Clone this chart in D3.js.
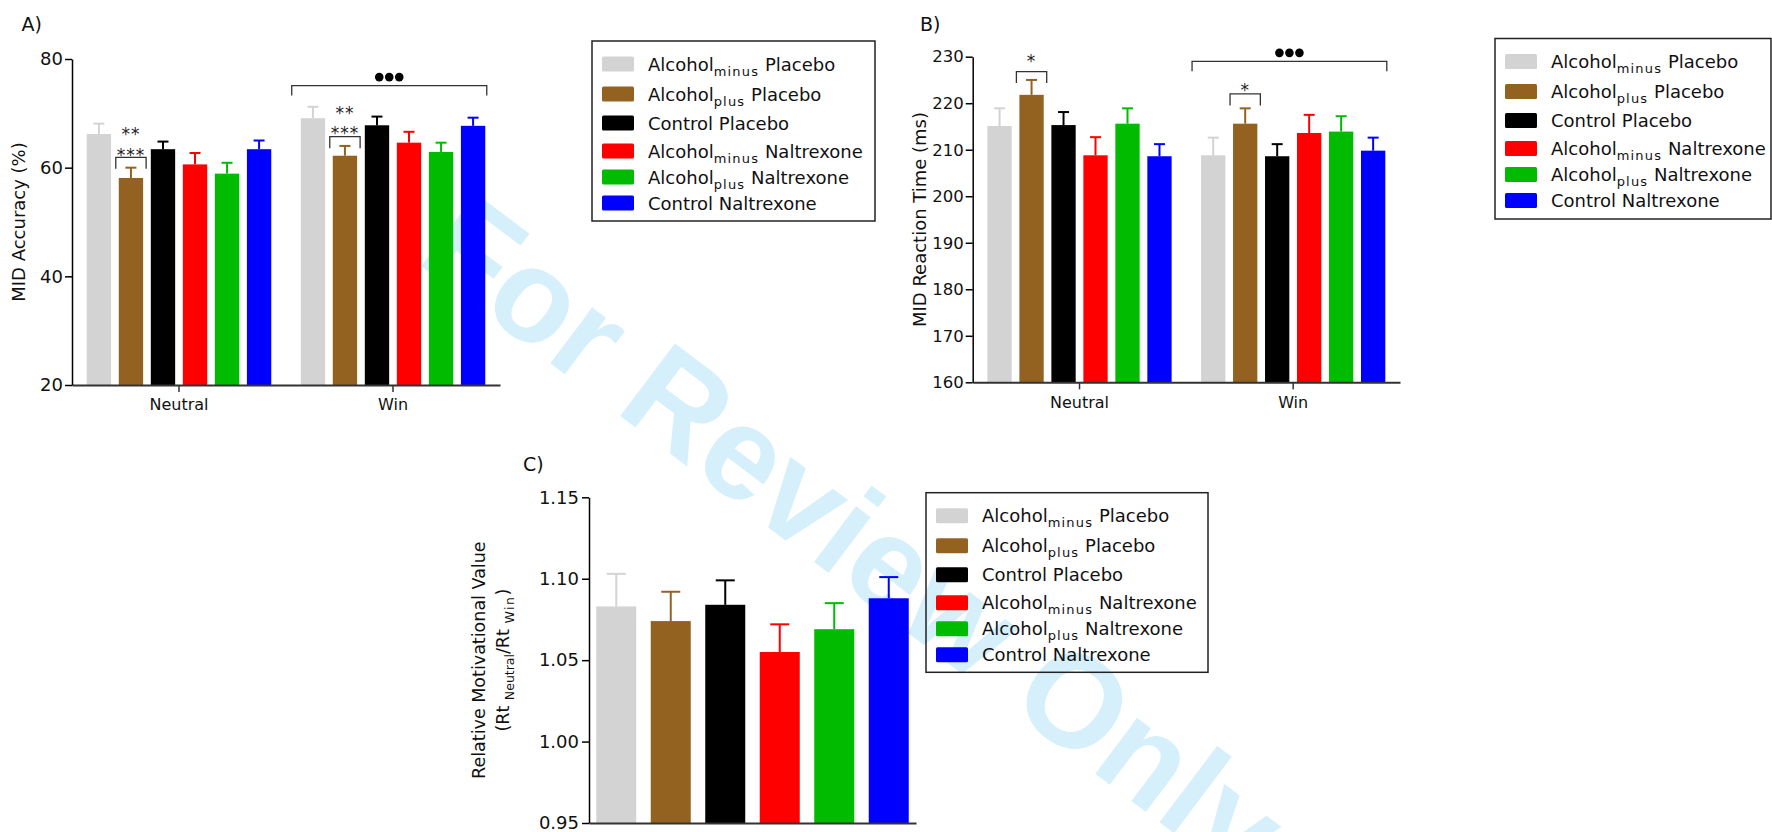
<!DOCTYPE html>
<html>
<head>
<meta charset="utf-8">
<script src="https://cdnjs.cloudflare.com/ajax/libs/d3/7.8.5/d3.min.js"></script>
<style>
  body { margin: 0; background: #fff; }
  svg { display: block; }
</style>
</head>
<body>
<svg id="chart" width="1772" height="832"></svg>
<script>
// ---- data ----
const groups = ['Neutral', 'Win'];
const seriesLabels = [
  ['Alcohol', 'minus', ' Placebo'],
  ['Alcohol', 'plus', ' Placebo'],
  ['Control Placebo', '', ''],
  ['Alcohol', 'minus', ' Naltrexone'],
  ['Alcohol', 'plus', ' Naltrexone'],
  ['Control Naltrexone', '', '']
];

const accNeutral = [66.2, 58.1, 63.4, 60.6, 58.9, 63.4];
const accNeutralSem = [1.9, 1.9, 1.4, 2.1, 2.0, 1.6];
const accWin = [69.1, 62.2, 67.8, 64.6, 62.9, 67.7];
const accWinSem = [2.1, 1.8, 1.6, 2.0, 1.7, 1.5];
const accTicks = [20, 40, 60, 80];

const rtNeutral = [215.1, 221.8, 215.3, 208.8, 215.6, 208.6];
const rtNeutralSem = [3.8, 3.2, 2.8, 3.9, 3.3, 2.6];
const rtWin = [208.8, 215.6, 208.6, 213.6, 213.9, 209.8];
const rtWinSem = [3.8, 3.3, 2.6, 3.9, 3.3, 2.8];
const rtTicks = [160, 170, 180, 190, 200, 210, 220, 230];

const rmv = [1.083, 1.074, 1.084, 1.055, 1.069, 1.088];
const rmvSem = [0.020, 0.018, 0.015, 0.017, 0.016, 0.013];
const rmvTicks = [0.95, 1.00, 1.05, 1.10, 1.15];

// significance: bracket over one bar, and bracket over a whole group
const accBarMarks = [
  { group: 'Neutral', series: 1, level: 61.9, starLevel: 63.1, stars: ['**', '***'] },
  { group: 'Win', series: 1, level: 65.7, starLevel: 67.05, stars: ['**', '***'] }
];
const accGroupMarks = [{ group: 'Win', level: 75.1 }];
const rtBarMarks = [
  { group: 'Neutral', series: 1, level: 226.8, starLevel: 230, stars: ['*'] },
  { group: 'Win', series: 1, level: 222.0, starLevel: 223.7, stars: ['*'] }
];
const rtGroupMarks = [{ group: 'Win', level: 229.0 }];

// ---- styling ----
const colors = ['#d3d3d3', '#946220', '#000000', '#ff0000', '#00bb00', '#0000ff'];
const font = '"DejaVu Sans", Verdana, sans-serif';
const legendRows = [0, 30, 59, 87, 113, 139];

const svg = d3.select('#chart');

// watermark sits behind the charts
svg.append('text')
  .attr('transform', 'translate(855,535) rotate(37)')
  .attr('text-anchor', 'middle')
  .attr('dy', '0.35em')
  .attr('font-family', '"Liberation Sans", Arial, sans-serif')
  .attr('font-weight', 'bold')
  .attr('font-size', 132)
  .attr('fill', '#d5effb')
  .text('For Review Only');

const styleAxis = (ax, domainColor, width, size) => {
  ax.attr('font-family', font).attr('font-size', size);
  ax.select('.domain').attr('stroke', domainColor).attr('stroke-width', width);
  ax.selectAll('.tick line').attr('stroke', domainColor).attr('stroke-width', 1.5);
  ax.selectAll('.tick text').attr('fill', '#111');
};

const drawBar = (g, x, w, y, v, sem, color, capW) => {
  g.append('rect')
    .attr('x', x).attr('width', w)
    .attr('y', y(v)).attr('height', y(y.domain()[0]) - y(v))
    .attr('fill', color);
  const cx = x + w / 2;
  g.append('line')
    .attr('x1', cx).attr('x2', cx)
    .attr('y1', y(v)).attr('y2', y(v + sem))
    .attr('stroke', color).attr('stroke-width', 2);
  g.append('line')
    .attr('x1', cx - capW / 2).attr('x2', cx + capW / 2)
    .attr('y1', y(v + sem)).attr('y2', y(v + sem))
    .attr('stroke', color).attr('stroke-width', 2);
};

const bracket = (g, xa, xb, yTop, leg) => {
  g.append('path')
    .attr('d', `M${xa},${yTop + leg}V${yTop}H${xb}V${yTop + leg}`)
    .attr('fill', 'none').attr('stroke', '#333').attr('stroke-width', 1.3);
};

const legend = (x, y, w, h) => {
  const g = svg.append('g').attr('transform', `translate(${x},${y})`);
  g.append('rect').attr('width', w).attr('height', h)
    .attr('fill', 'none').attr('stroke', '#222').attr('stroke-width', 1.5);
  seriesLabels.forEach((lab, i) => {
    const cy = 23 + legendRows[i];
    g.append('rect').attr('x', 10).attr('y', cy - 7.5).attr('width', 32).attr('height', 15)
      .attr('rx', 1.5).attr('fill', colors[i]);
    const t = g.append('text').attr('x', 56).attr('y', cy + 6.5)
      .attr('font-family', font).attr('font-size', 18).attr('fill', '#111');
    t.append('tspan').text(lab[0]);
    if (lab[1]) {
      t.append('tspan').attr('font-size', 13).attr('letter-spacing', 1.2).attr('dy', 5).text(lab[1]);
      t.append('tspan').attr('dy', -5).text(lab[2]);
    }
  });
};

const panelLabel = (x, y, s) => {
  svg.append('text').attr('x', x).attr('y', y)
    .attr('font-family', font).attr('font-size', 19).attr('fill', '#111').text(s);
};

function groupedPanel(opt) {
  const g = svg.append('g');
  const x0 = d3.scaleBand().domain(groups).range([opt.left, opt.right]);
  const x1 = d3.scaleBand().domain(d3.range(6)).range([0, x0.bandwidth()])
    .paddingInner(0.24).paddingOuter(0.46);
  const y = d3.scaleLinear().domain(opt.domain).range([opt.bottom, opt.top]);

  groups.forEach((grp, gi) => {
    opt.values[gi].forEach((v, i) => {
      drawBar(g, x0(grp) + x1(i), x1.bandwidth(), y, v, opt.sems[gi][i], colors[i], 11);
    });
  });

  opt.barMarks.forEach(m => {
    const bx = x0(m.group) + x1(m.series);
    bracket(g, bx - 3, bx + x1.bandwidth() + 3, y(m.level), 11.5);
    const base = y(m.starLevel);
    m.stars.slice().reverse().forEach((s, k) => {
      g.append('text')
        .attr('x', bx + x1.bandwidth() / 2).attr('y', base - k * 20.5 + 10)
        .attr('text-anchor', 'middle')
        .attr('font-family', font).attr('font-size', 17).attr('fill', '#222')
        .attr('letter-spacing', 1)
        .text(s);
    });
  });

  opt.groupMarks.forEach(m => {
    const xa = x0(m.group) + x1(0) - 9;
    const xb = x0(m.group) + x1(5) + x1.bandwidth() + 1.5;
    const yt = y(m.level);
    bracket(g, xa, xb, yt, 10);
    const cx = (xa + xb) / 2;
    [-10, 0, 10].forEach(dx => {
      g.append('circle').attr('cx', cx + dx).attr('cy', yt - 8.5).attr('r', 4.3).attr('fill', '#000');
    });
  });

  const xa = g.append('g').attr('transform', `translate(0,${opt.bottom})`)
    .call(d3.axisBottom(x0).tickSize(7).tickSizeOuter(0).tickPadding(7));
  styleAxis(xa, '#333', 2, 16);

  const ya = g.append('g').attr('transform', `translate(${opt.left},0)`)
    .call(d3.axisLeft(y).tickValues(opt.ticks).tickSize(7).tickSizeOuter(0).tickPadding(2));
  styleAxis(ya, '#000', 1.5, opt.tickSize);

  g.append('text')
    .attr('transform', `translate(${opt.labelX},${(opt.top + opt.bottom) / 2}) rotate(-90)`)
    .attr('text-anchor', 'middle').attr('dy', '0.35em')
    .attr('font-family', font).attr('font-size', 18).attr('fill', '#111')
    .text(opt.label);
}

// ---- A) accuracy ----
panelLabel(21.5, 31, 'A)');
groupedPanel({
  left: 72, right: 500, top: 59, bottom: 385,
  domain: [20, 80], ticks: accTicks, tickSize: 18,
  values: [accNeutral, accWin], sems: [accNeutralSem, accWinSem],
  barMarks: accBarMarks, groupMarks: accGroupMarks,
  label: 'MID Accuracy (%)', labelX: 18.5
});
legend(592, 41, 283, 180);

// ---- B) reaction time ----
panelLabel(920, 31, 'B)');
groupedPanel({
  left: 972.7, right: 1400, top: 56.7, bottom: 382.3,
  domain: [160, 230], ticks: rtTicks, tickSize: 16.5,
  values: [rtNeutral, rtWin], sems: [rtNeutralSem, rtWinSem],
  barMarks: rtBarMarks, groupMarks: rtGroupMarks,
  label: 'MID Reaction Time (ms)', labelX: 919.5
});
legend(1495, 38.5, 276, 180.5);

// ---- C) relative motivational value ----
panelLabel(523, 471, 'C)');
(function () {
  const g = svg.append('g');
  const left = 589, right = 916, top = 497.3, bottom = 823;
  const x = d3.scaleBand().domain(d3.range(6)).range([left, right])
    .paddingInner(0.266).paddingOuter(0.133);
  const y = d3.scaleLinear().domain([0.95, 1.15]).range([bottom, top]);

  rmv.forEach((v, i) => drawBar(g, x(i), x.bandwidth(), y, v, rmvSem[i], colors[i], 19));

  const xa = g.append('g').attr('transform', `translate(0,${bottom})`)
    .call(d3.axisBottom(x).tickSize(0).tickSizeOuter(0).tickFormat(''));
  styleAxis(xa, '#333', 2, 16);

  const ya = g.append('g').attr('transform', `translate(${left},0)`)
    .call(d3.axisLeft(y).tickValues(rmvTicks).tickFormat(d3.format('.2f'))
      .tickSize(7).tickSizeOuter(0).tickPadding(3));
  styleAxis(ya, '#000', 1.5, 18);

  const cy = (top + bottom) / 2;
  g.append('text')
    .attr('transform', `translate(478.5,${cy}) rotate(-90)`)
    .attr('text-anchor', 'middle').attr('dy', '0.35em')
    .attr('font-family', font).attr('font-size', 17.5).attr('fill', '#111')
    .text('Relative Motivational Value');
  const t = g.append('text')
    .attr('transform', `translate(503,${cy}) rotate(-90)`)
    .attr('text-anchor', 'middle').attr('dy', '0.35em')
    .attr('font-family', font).attr('font-size', 17.5).attr('fill', '#111');
  t.append('tspan').text('(Rt ');
  t.append('tspan').attr('font-size', 12.5).attr('dy', 5).text('Neutral');
  t.append('tspan').attr('dy', -5).text('/Rt ');
  t.append('tspan').attr('font-size', 12.5).attr('letter-spacing', 1.5).attr('dy', 5).text('Win');
  t.append('tspan').attr('dy', -5).text(')');
})();
legend(926, 492.7, 282, 179.6);
</script>
</body>
</html>
